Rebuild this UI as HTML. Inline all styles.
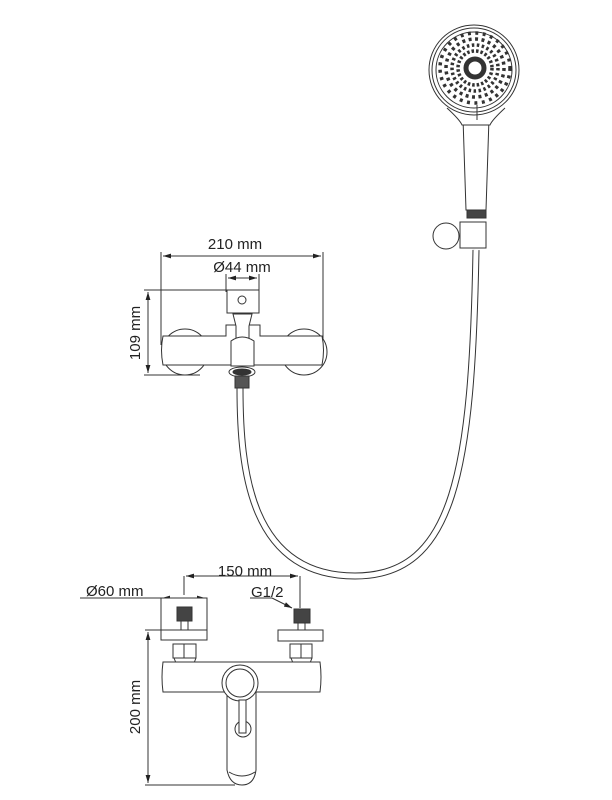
<!DOCTYPE html>
<html><head><style>
body{margin:0;background:#fff}
svg{display:block}
text{font-family:"Liberation Sans",sans-serif;font-size:15px;fill:#222}
</style></head><body>
<svg width="612" height="800" viewBox="0 0 612 800" xmlns="http://www.w3.org/2000/svg">
<defs>
<marker id="a" viewBox="0 0 10 6" refX="10" refY="3" markerWidth="8" markerHeight="5" orient="auto-start-reverse"><path d="M0 0L10 3L0 6z" fill="#222"/></marker>
</defs>
<g stroke="#333" stroke-width="1" fill="none">
<path d="M240 388 C240 470 250 576 355 576 C455 576 472 470 476 250" stroke="#333" stroke-width="7"/>
<path d="M240 388 C240 470 250 576 355 576 C455 576 472 470 476 250" stroke="#fff" stroke-width="5"/>
<line x1="161" y1="252" x2="161" y2="345"/><line x1="323" y1="252" x2="323" y2="345"/>
<line x1="163" y1="256" x2="321" y2="256" marker-start="url(#a)" marker-end="url(#a)"/>
<line x1="226" y1="274" x2="226" y2="292"/><line x1="259" y1="274" x2="259" y2="292"/>
<line x1="228" y1="278" x2="257" y2="278" marker-start="url(#a)" marker-end="url(#a)"/>
<line x1="144" y1="290" x2="240" y2="290"/><line x1="144" y1="375" x2="200" y2="375"/>
<line x1="148" y1="292" x2="148" y2="373" marker-start="url(#a)" marker-end="url(#a)"/>
<circle cx="185" cy="352" r="23" fill="#fff"/>
<circle cx="304" cy="352" r="23" fill="#fff"/>
<path d="M163 336 H226 V325 H260 V336 H322 Q325 350 322 365 H163 Q160 350 163 336Z" fill="#fff"/>
<path d="M227 290 H259 V313 H227Z" fill="#fff"/>
<circle cx="242" cy="300" r="4"/>
<path d="M233 314 H252 L249 326 V340 H236 V326Z" fill="#fff"/>
<path d="M231 341 Q242 333 254 341 V366 H231Z" fill="#fff"/>
<ellipse cx="242" cy="372" rx="13" ry="5" fill="#fff"/>
<ellipse cx="242" cy="372" rx="9" ry="3" fill="#333"/>
<rect x="235" y="376" width="14" height="12" fill="#555"/>
<path d="M463 118 L466 210 H486 L489 118Z" fill="#fff"/>
<path d="M447 108 Q460 120 462 125 H490 Q492 120 505 108" fill="#fff"/>
<circle cx="474" cy="70" r="45" fill="#fff"/>
<circle cx="474" cy="70" r="42"/>
<circle cx="474" cy="70" r="38"/>
<circle cx="475" cy="68" r="9" stroke="#333" stroke-width="5"/>
<circle cx="475" cy="68" r="17" stroke="#333" stroke-width="3.5" stroke-dasharray="2.5 2"/>
<circle cx="475" cy="68" r="23" stroke="#333" stroke-width="3.5" stroke-dasharray="2.5 2.5"/>
<circle cx="475" cy="68" r="29" stroke="#333" stroke-width="3.5" stroke-dasharray="3 3.5"/>
<circle cx="475" cy="68" r="35" stroke="#333" stroke-width="3.5" stroke-dasharray="3 4.5"/>
<line x1="477" y1="105" x2="477" y2="120"/>
<rect x="467" y="210" width="19" height="8" fill="#444"/>
<rect x="460" y="222" width="26" height="26" fill="#fff"/>
<circle cx="446" cy="236" r="13" fill="#fff"/>
<line x1="80" y1="598" x2="205" y2="598"/>
<line x1="162" y1="598" x2="205" y2="598" marker-start="url(#a)" marker-end="url(#a)"/>
<line x1="184" y1="576" x2="184" y2="595"/><line x1="300" y1="576" x2="300" y2="608"/>
<line x1="186" y1="576" x2="298" y2="576" marker-start="url(#a)" marker-end="url(#a)"/>
<line x1="250" y1="598" x2="272" y2="598"/><line x1="272" y1="598" x2="292" y2="608" marker-end="url(#a)"/>
<line x1="145" y1="630" x2="170" y2="630"/><line x1="145" y1="785" x2="235" y2="785"/>
<line x1="148" y1="632" x2="148" y2="783" marker-start="url(#a)" marker-end="url(#a)"/>
<rect x="161" y="598" width="46" height="42" fill="#fff"/><line x1="161" y1="630" x2="207" y2="630"/>
<rect x="177" y="607" width="15" height="14" fill="#444"/>
<line x1="181" y1="621" x2="181" y2="630"/><line x1="188" y1="621" x2="188" y2="630"/>
<rect x="278" y="630" width="45" height="11" fill="#fff"/>
<rect x="294" y="609" width="16" height="14" fill="#444"/>
<line x1="298" y1="623" x2="298" y2="630"/><line x1="305" y1="623" x2="305" y2="630"/>
<rect x="173" y="644" width="23" height="14" fill="#fff"/><line x1="184" y1="644" x2="184" y2="658"/>
<rect x="290" y="644" width="22" height="14" fill="#fff"/><line x1="301" y1="644" x2="301" y2="658"/>
<path d="M174 658 L178 668 L185 671 L192 668 L196 658"/>
<path d="M291 658 L295 668 L301 671 L308 668 L312 658"/>
<path d="M163 662 H320 Q322 677 320 692 H163 Q161 677 163 662Z" fill="#fff"/>
<path d="M227 690 V770 Q230 785 242 785 Q254 785 256 770 V690" fill="#fff"/>
<path d="M229 772 Q242 780 255 772"/>
<circle cx="240" cy="683" r="18" fill="#fff"/><circle cx="240" cy="683" r="14"/>
<circle cx="243" cy="729" r="8"/>
<rect x="239" y="700" width="7" height="33" fill="#fff"/>
</g>
<text x="235" y="249" text-anchor="middle">210 mm</text>
<text x="242" y="272" text-anchor="middle">Ø44 mm</text>
<text x="140" y="333" text-anchor="middle" transform="rotate(-90 140 333)">109 mm</text>
<text x="245" y="576" text-anchor="middle">150 mm</text>
<text x="86" y="596">Ø60 mm</text>
<text x="251" y="597">G1/2</text>
<text x="140" y="707" text-anchor="middle" transform="rotate(-90 140 707)">200 mm</text>
</svg>
</body></html>
